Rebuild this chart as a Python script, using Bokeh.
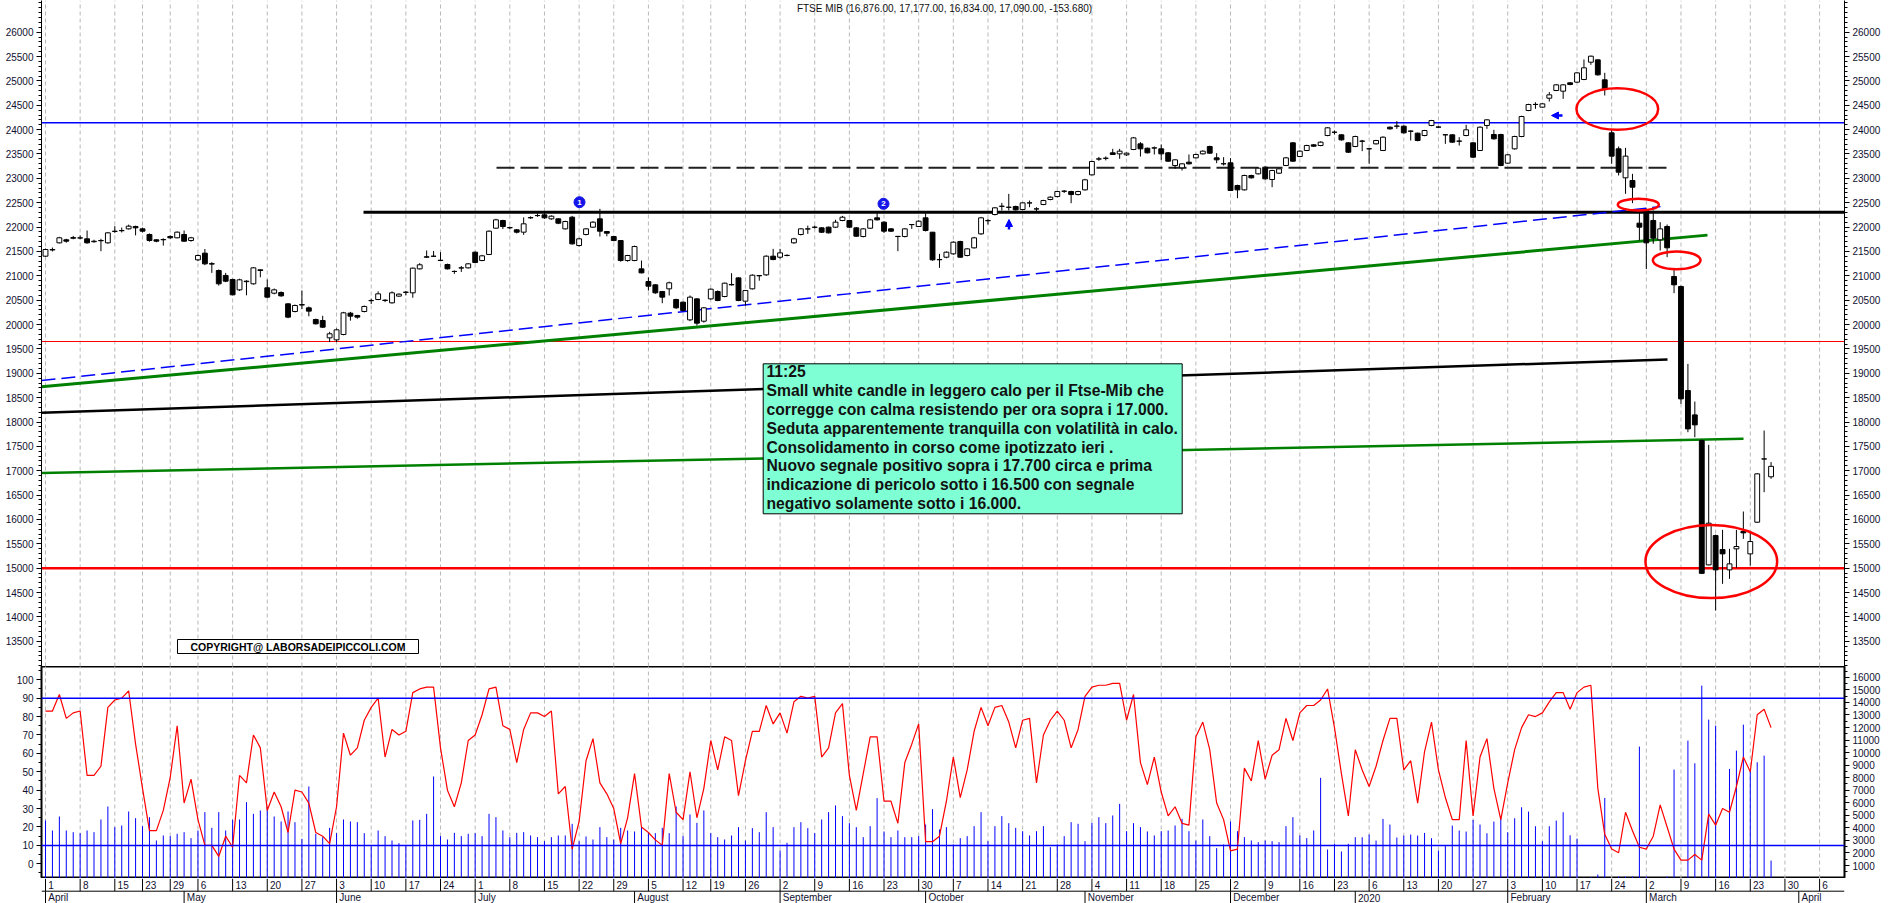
import pandas as pd
from bokeh.plotting import figure
from bokeh.models import (ColumnDataSource, LinearAxis, Range1d, FixedTicker, Span,
                          Label, Arrow, NormalHead)
from bokeh.layouts import column
from bokeh.embed import file_html
from bokeh.resources import INLINE
from bokeh.core.properties import value

# ---------------- data ----------------
title_text = "FTSE MIB (16,876.00, 17,177.00, 16,834.00, 17,090.00, -153.680)"
holidays = ["2019-04-19", "2019-04-22", "2019-05-01", "2019-08-15", "2019-12-24", "2019-12-25",
            "2019-12-26", "2019-12-31", "2020-01-01", "2020-04-10", "2020-04-13"]
skip_week_ticks = ["2019-12-30"]
month_names = {1: "2020", 2: "February", 3: "March", 4: "April", 5: "May", 6: "June", 7: "July",
               8: "August", 9: "September", 10: "October", 11: "November", 12: "December"}

opens = [
    21403, 21530, 21677, 21739, 21770, 21775, 21759, 21700, 21720, 21677, 21910, 21925, 21964, 22012, 21964, 21848, 21739, 21740, 21807, 21780,
    21848, 21725, 21328, 21465, 21250, 21109, 21007, 20925, 20712, 20880, 20836, 21123, 20754, 20644, 20658, 20425, 20268, 20400, 20343, 20104, 20083, 19727,
    19686, 19796, 20234, 20186, 20268, 20490, 20514, 20500, 20446, 20583, 20660, 20651, 21143, 21390, 21400, 21320, 21232, 21090, 21160, 21164,
    21485, 21314, 21438, 21978, 22135, 21990, 21944, 21896, 22190, 22235, 22251, 22169, 22169, 21964, 22203, 21622, 21848, 21998, 22169, 21909, 21806, 21724, 21314,
    21314, 21143, 20883, 20815, 20678, 20733, 20514, 20459, 20096, 20527, 20069, 20527, 20678, 20575, 20822, 20958, 20480, 20733, 21006, 21020, 21403,
    21382, 21420, 21677, 21848, 21960, 21995, 21984, 21998, 21998, 22135, 22135, 21984, 21806, 21977, 22190, 22101, 21964, 21810, 21806, 22050, 22012,
    22190, 21895, 21330, 21382, 21451, 21704, 21417, 21574, 21861, 22130, 22258, 22425, 22405, 22422, 22361, 22495, 22372, 22463, 22566, 22627, 22735, 22730, 22668,
    22764, 23072, 23395, 23410, 23524, 23503, 23483, 23592, 23708, 23619, 23622, 23606, 23524, 23264, 23216, 23332, 23421, 23503, 23654, 23421, 23300,
    23319, 22853, 22764, 23059, 23093, 23230, 22976, 23106, 23264, 23729, 23448, 23572, 23688, 23674, 23879, 23945, 23893, 23729,
    23654, 23765, 23608, 23708, 23572, 24050, 24072, 24071, 23970, 23927, 23879, 24085, 24055, 23895, 23893, 23765, 23879, 23729, 23572, 24085, 23900, 23900,
    23312, 23606, 23859, 24392, 24518, 24461, 24645, 24803, 24789, 24960, 24974, 25029, 25384, 25432, 25022, 23934, 23606, 23011, 22956, 22081,
    22341, 22136, 21739, 22012, 20986, 20781, 18646, 18146, 17620, 15068, 15670, 15383, 14966, 15397, 15753, 15294, 15944, 17240, 16876,
]
highs = [
    21560, 21580, 21800, 21760, 21820, 21830, 21930, 21740, 21760, 21900, 22019, 21990, 22050, 22030, 21990, 21870, 21750, 21770, 21830, 21910,
    21930, 21800, 21440, 21550, 21280, 21130, 21060, 20940, 20940, 20910, 21180, 21130, 20925, 20740, 20680, 20440, 20410, 20700, 20370, 20120, 20180, 19850,
    19920, 20260, 20260, 20200, 20390, 20530, 20680, 20520, 20680, 20640, 20690, 21170, 21260, 21520, 21510, 21485, 21250, 21110, 21200, 21260,
    21500, 21430, 21930, 22170, 22150, 22010, 21960, 22200, 22220, 22280, 22290, 22240, 22180, 22130, 22230, 21780, 21980, 22120, 22374, 21920, 21820, 21730, 21430,
    21620, 21314, 20970, 20830, 20690, 20880, 20530, 20470, 20596, 20540, 20360, 20740, 20700, 20860, 21054, 20970, 20710, 21030, 21010, 21420, 21553,
    21553, 21440, 21780, 21980, 22030, 22030, 22000, 22010, 22150, 22230, 22150, 22000, 21980, 22170, 22285, 22120, 21980, 21815, 21980, 22060, 22140,
    22285, 21900, 21451, 21500, 21710, 21720, 21570, 21800, 22210, 22169, 22410, 22497, 22682, 22440, 22510, 22545, 22408, 22560, 22630, 22745, 22760, 22745, 22745,
    22990, 23360, 23440, 23450, 23606, 23606, 23530, 23850, 23743, 23630, 23654, 23695, 23540, 23395, 23310, 23490, 23505, 23575, 23670, 23517, 23435,
    23414, 22870, 23075, 23075, 23225, 23245, 23175, 23210, 23440, 23745, 23575, 23690, 23700, 23760, 24050, 23982, 23905, 23740,
    23875, 23790, 23615, 23790, 23860, 24065, 24174, 24085, 23985, 23940, 23995, 24200, 24070, 23900, 23905, 23845, 24098, 23740, 24065, 24215, 23996, 23915,
    23500, 23875, 24285, 24530, 24563, 24545, 24770, 24935, 24935, 24975, 25180, 25440, 25520, 25440, 25166, 24016, 23654, 23626, 23093, 22307,
    22380, 22341, 22101, 22053, 21137, 20800, 19193, 18420, 17640, 17531, 15690, 15787, 15397, 15787, 16163, 15739, 16950, 17825, 17177,
]
lows = [
    21390, 21500, 21665, 21680, 21750, 21750, 21660, 21680, 21505, 21660, 21882, 21890, 21950, 21830, 21890, 21700, 21690, 21620, 21760, 21770,
    21700, 21700, 21300, 21220, 21060, 20800, 20870, 20600, 20690, 20600, 20820, 20970, 20540, 20620, 20570, 20130, 20250, 20320, 20170, 20000, 19930, 19640,
    19640, 19780, 20080, 20120, 20250, 20420, 20500, 20460, 20430, 20570, 20600, 20550, 21130, 21370, 21390, 21300, 21130, 21040, 21080, 21150,
    21260, 21300, 21430, 21970, 21960, 21960, 21870, 21840, 22170, 22210, 22170, 22150, 22060, 21950, 21640, 21600, 21830, 21985, 21806, 21810, 21710, 21290, 21290,
    21300, 21050, 20698, 20630, 20438, 20596, 20320, 20270, 20069, 19980, 20040, 20510, 20480, 20560, 20800, 20480, 20390, 20720, 20900, 21000, 21320,
    21350, 21400, 21660, 21830, 21861, 21970, 21880, 21870, 21980, 22120, 21980, 21800, 21790, 21960, 22135, 21880, 21900, 21506, 21790, 21964, 22000,
    21910, 21310, 21164, 21360, 21430, 21370, 21400, 21560, 21840, 22053, 22240, 22340, 22340, 22340, 22350, 22408, 22330, 22450, 22550, 22610, 22700, 22490, 22650,
    22750, 23060, 23360, 23370, 23480, 23401, 23460, 23580, 23448, 23510, 23490, 23380, 23340, 23195, 23161, 23285, 23410, 23490, 23505, 23312, 23264,
    22740, 22593, 22750, 22995, 23080, 22975, 22819, 23090, 23250, 23340, 23435, 23560, 23645, 23660, 23865, 23900, 23775, 23520,
    23640, 23558, 23298, 23695, 23560, 24000, 24016, 23920, 23777, 23760, 23865, 24070, 24030, 23708, 23730, 23674, 23865, 23420, 23560, 24016, 23795, 23250,
    23298, 23590, 23845, 24380, 24427, 24450, 24577, 24790, 24632, 24910, 24960, 25015, 25330, 25110, 24700, 23298, 23059, 22683, 22491, 21725,
    21137, 21657, 21520, 21383, 20644, 18372, 17791, 17688, 14884, 15060, 14131, 14679, 14781, 15007, 15602, 15055, 15930, 16560, 16834,
]
closes = [
    21540, 21540, 21780, 21711, 21785, 21780, 21677, 21710, 21725, 21882, 21916, 21930, 22019, 21985, 21916, 21725, 21711, 21745, 21780, 21896,
    21711, 21780, 21417, 21246, 21240, 20836, 20890, 20610, 20918, 20890, 21164, 21110, 20562, 20712, 20589, 20152, 20391, 20410, 20275, 20015, 19946, 19810,
    19892, 20241, 20172, 20152, 20371, 20494, 20630, 20494, 20651, 20624, 20665, 21157, 21226, 21383, 21403, 21314, 21143, 21089, 21164, 21246,
    21273, 21410, 21916, 22149, 22012, 21985, 21896, 22067, 22195, 22238, 22190, 22224, 22080, 22114, 21656, 21759, 21964, 22101, 21916, 21875, 21724, 21314, 21417,
    21601, 21061, 20787, 20651, 20562, 20856, 20343, 20288, 20562, 20028, 20343, 20726, 20493, 20849, 20815, 20493, 20698, 21013, 21000, 21403, 21334,
    21471, 21417, 21759, 21964, 21964, 21998, 21895, 21882, 22101, 22203, 21998, 21813, 21964, 22149, 22149, 21916, 21916, 21806, 21964, 22053, 22121,
    21930, 21328, 21334, 21485, 21690, 21382, 21553, 21779, 22190, 22135, 22395, 22429, 22408, 22354, 22497, 22497, 22374, 22545, 22614, 22730, 22737, 22668, 22730,
    22970, 23346, 23401, 23414, 23490, 23558, 23517, 23831, 23606, 23524, 23626, 23503, 23353, 23380, 23298, 23298, 23490, 23558, 23517, 23380, 23298,
    22751, 22764, 23059, 23011, 23209, 22990, 23161, 23195, 23421, 23353, 23558, 23674, 23660, 23743, 24037, 23948, 23790, 23537,
    23859, 23763, 23606, 23777, 23845, 24016, 24071, 23934, 23968, 23777, 23982, 24187, 24050, 23893, 23743, 23763, 23996, 23435, 24050, 24201, 23811, 23264,
    23483, 23859, 24269, 24516, 24516, 24529, 24714, 24919, 24919, 24926, 25165, 25268, 25507, 25124, 24837, 23456, 23127, 23456, 22819, 21999,
    21677, 21773, 21964, 21575, 20815, 18475, 17859, 17941, 14894, 15924, 14966, 15294, 15089, 15445, 15725, 15547, 16936, 17243, 17090,
]
oscillator = [
    83, 83, 92, 79, 82, 83, 48, 48, 53, 85, 89, 90, 94, 65, 41, 18, 18, 29, 47, 75,
    33, 46, 24, 10, 10, 4, 15, 9, 48, 44, 70, 63, 29, 39, 31, 17, 40, 39, 33, 17,
    15, 11, 31, 71, 59, 63, 78, 85, 90, 58, 73, 70, 72, 93, 95, 96, 96, 63, 40, 31,
    44, 67, 70, 81, 95, 96, 75, 73, 55, 73, 82, 82, 80, 83, 38, 42, 8, 23, 56, 68,
    44, 38, 30, 11, 25, 49, 20, 17, 13, 10, 49, 28, 24, 50, 25, 41, 67, 51, 69, 67,
    37, 56, 72, 72, 86, 76, 82, 71, 88, 91, 90, 91, 58, 63, 82, 87, 48, 29, 49, 69,
    69, 34, 34, 22, 55, 65, 76, 12, 12, 15, 34, 58, 36, 51, 72, 85, 75, 85, 86, 77,
    63, 78, 79, 44, 70, 78, 83, 78, 63, 73, 91, 96, 97, 97, 98, 98, 78, 92, 55, 43,
    58, 39, 26, 31, 22, 21, 69, 77, 62, 33, 24, 7, 8, 52, 45, 67, 46, 59, 62, 79,
    67, 82, 86, 86, 89, 95, 74, 49, 26, 62, 51, 42, 53, 67, 79, 79, 51, 56, 33, 61,
    77, 51, 36, 24, 24, 67, 26, 58, 68, 41, 24, 44, 62, 74, 81, 80, 82, 88, 93, 93,
    84, 93, 96, 97, 41, 16, 8, 6, 28, 18, 9, 8, 15, 32, 20, 8, 2, 2, 5, 2,
    27, 21, 30, 28, 42, 58, 50, 81, 84, 74,
]
volume = [
    4590, 3794, 4909, 3794, 3660, 3580, 3794, 3660, 4670, 5706, 4059, 4192, 5307, 4776, 4139, 4856, 2997, 3395, 3342, 3528,
    3660, 3183, 3794, 5254, 4006, 5254, 3794, 4643, 4670, 6051, 5121, 5387, 5652, 4909, 4510, 5307, 4457, 3130, 7299, 3528,
    3262, 4006, 3580, 4670, 4510, 4457, 3580, 2545, 3794, 3342, 2997, 2784, 2651, 4590, 4643, 5121, 8096, 3342, 3076, 3608,
    3342, 3528, 3580, 3342, 5121, 4856, 3794, 3262, 3608, 3660, 3395, 3262, 2943, 3262, 3395, 3395, 4325, 2943, 3315, 3076,
    4059, 3262, 3076, 4006, 3794, 3714, 4059, 3580, 3580, 4006, 3580, 5706, 3342, 5068, 4404, 5387, 3580, 3262, 3076, 3395,
    4059, 2997, 3979, 3660, 5254, 4059, 2200, 2811, 4059, 4457, 3979, 3580, 4670, 5254, 5786, 4936, 4378, 4059, 3262, 4139,
    6370, 3714, 3262, 3794, 3262, 3262, 3342, 4272, 5493, 3873, 4059, 2678, 3183, 3342, 4139, 5254, 2943, 4139, 4936, 4378,
    4006, 3740, 3395, 3740, 4139, 2466, 2678, 3342, 4457, 4325, 2943, 4404, 4856, 4378, 4989, 5918, 3740, 4378, 4059, 3714,
    3395, 3740, 3794, 4192, 4723, 3740, 2997, 4670, 3342, 2386, 2678, 4510, 3740, 3262, 2997, 2864, 2997, 2943, 2864, 4139,
    4856, 3395, 3183, 3794, 7990, 2280, 2731, 2120, 2731, 3262, 3256, 3468, 2990, 4716, 4265, 3229, 3388, 3468, 3388, 3600,
    3176, 2193, 2592, 4185, 3787, 3707, 4636, 4265, 3574, 4503, 4796, 3654, 4769, 5645, 5300, 4132, 2937, 4132, 4583, 5247,
    3415, 3149, 20, 70, 282, 6388, 0, 123, 123, 123, 10477, 123, 0, 16, 123, 8645, 0, 10955, 9150, 15336,
    12628, 12150, 0, 8698, 10158, 12229, 8566, 9229, 9760, 1397,
]
note_lines = [
    "11:25",
    "Small white candle in leggero calo per il Ftse-Mib che",
    "corregge con calma resistendo per ora sopra i 17.000.",
    "Seduta apparentemente tranquilla con volatilità in calo.",
    "Consolidamento in corso come ipotizzato ieri .",
    "Nuovo segnale positivo sopra i 17.700 circa e prima",
    "indicazione di pericolo sotto i 16.500 con segnale",
    "negativo solamente sotto i 16.000.",
]
copyright_text = "COPYRIGHT@ LABORSADEIPICCOLI.COM"

# horizontal levels (price)
level_blue = 24140
level_black = 22305
level_dash = 23217
level_red_thin = 19652
level_red = 15000

N = len(closes)
assert len(opens) == N == len(highs) == len(lows) == len(oscillator) == len(volume) == 250

# ---------------- geometry helpers (pixel mapping of the original) ----------------
PX0, PXD = 45.0, 6.93          # x pixel of first candle, pixels per trading day
PY15, PPU = 567.7, 0.04873     # y pixel of 15000, pixels per price unit
def xi(px):
    return (px - PX0) / PXD
def yp(py):
    return 15000 + (PY15 - py) / PPU

X0, X1 = xi(41), xi(1844)
YMIN, YMAX = yp(666), yp(0)

all_days = [d for d in pd.bdate_range("2019-04-01", "2020-04-17") if d.strftime("%Y-%m-%d") not in holidays]
all_days = [d for i, d in enumerate(all_days) if i <= X1]
week_ticks, week_labels, month_ticks, month_labels = [], [], [], []
for i, d in enumerate(all_days):
    if i == 0 or d.isocalendar()[1] != all_days[i - 1].isocalendar()[1]:
        if d.strftime("%Y-%m-%d") not in skip_week_ticks:
            week_ticks.append(i)
            week_labels.append(str(d.day))
    if i == 0 or d.month != all_days[i - 1].month:
        month_ticks.append(i)
        month_labels.append(month_names[d.month])

FONT = value("Liberation Sans")

def style_axis(ax):
    ax.major_label_text_font = "Liberation Sans"
    ax.major_label_text_font_size = "10px"
    ax.major_label_text_color = "#101030"
    ax.major_tick_out = 5
    ax.major_tick_in = 0
    ax.minor_tick_out = 3
    ax.minor_tick_in = 0
    ax.axis_line_color = "black"
    ax.major_tick_line_color = "black"
    ax.minor_tick_line_color = "black"
    ax.major_label_standoff = 3
    return ax

def make_fig(frame_h, y_range, outline):
    f = figure(width=1890, height=frame_h, frame_width=1803, frame_height=frame_h,
               x_range=XR, y_range=y_range, sizing_mode="fixed",
               output_backend="svg", toolbar_location=None, x_axis_type=None,
               y_axis_location=None, min_border_left=41, min_border_right=46,
               min_border_top=0, min_border_bottom=0, background_fill_color="white",
               border_fill_color="white", outline_line_color=outline, title=None)
    f.grid.visible = False
    return f

XR = Range1d(X0, X1)

# ---------------- main price panel ----------------
p = make_fig(666, Range1d(YMIN, YMAX), None)
price_ticks = list(range(13500, 26001, 500))
price_minor = list(range(13000, 26700, 100))
for side in ("left", "right"):
    p.add_layout(style_axis(LinearAxis(ticker=FixedTicker(ticks=price_ticks, minor_ticks=price_minor))), side)

p.segment(x0=week_ticks, y0=[YMIN] * len(week_ticks), x1=week_ticks, y1=[YMAX] * len(week_ticks),
          line_color="#b8b8b8", line_width=1, line_dash="4 3")

# horizontal levels
p.segment(x0=[X0], y0=[level_red_thin], x1=[X1], y1=[level_red_thin], line_color="red", line_width=1)
p.segment(x0=[X0], y0=[level_blue], x1=[X1], y1=[level_blue], line_color="blue", line_width=1.5)
p.segment(x0=[X0], y0=[level_red], x1=[X1], y1=[level_red], line_color="red", line_width=2.5)
p.segment(x0=[xi(363)], y0=[level_black], x1=[X1], y1=[level_black], line_color="black", line_width=3)
p.segment(x0=[xi(496)], y0=[level_dash], x1=[xi(1666)], y1=[level_dash], line_color="#202020",
          line_width=2, line_dash="18 6")

# trend lines
p.segment(x0=[X0], y0=[18191], x1=[xi(1667)], y1=[19283], line_color="black", line_width=2.5)
p.segment(x0=[X0], y0=[16954], x1=[xi(1743)], y1=[17655], line_color="#008000", line_width=2.5)
p.segment(x0=[X0], y0=[18724], x1=[xi(1707)], y1=[21835], line_color="#008000", line_width=3)
p.segment(x0=[X0], y0=[18850], x1=[xi(1660)], y1=[22420], line_color="blue", line_width=1.5,
          line_dash="14 6")

# candles
idx = list(range(N))
src = ColumnDataSource(dict(
    x=idx, o=opens, h=highs, l=lows, c=closes,
    top=[max(o, c) for o, c in zip(opens, closes)],
    bot=[min(o, c) for o, c in zip(opens, closes)],
    fill=["white" if c >= o else "black" for o, c in zip(opens, closes)],
))
p.segment(x0="x", y0="l", x1="x", y1="h", source=src, line_color="black", line_width=1)
p.vbar(x="x", width=0.7, top="top", bottom="bot", source=src, fill_color="fill",
       line_color="black", line_width=1)

# red ellipses
p.ellipse(x=[xi(1616.8), xi(1637.8), xi(1676.2), xi(1710.8)],
          y=[yp(108.5), yp(204.2), yp(259.8), yp(561)],
          width=[81.7 / PXD, 41 / PXD, 47.7 / PXD, 131.7 / PXD],
          height=[41.7 / PPU, 11.7 / PPU, 17.7 / PPU, 73.3 / PPU],
          fill_color=None, line_color="red", line_width=2.5)

# blue markers
p.scatter(x=[xi(579), xi(883)], y=[yp(201.7), yp(203.3)], size=11, marker="circle",
          fill_color="#1515e8", line_color="#1515e8")
p.text(x=[xi(579), xi(883)], y=[yp(201.7), yp(203.3)], text=["1", "2"], text_color="white",
       text_font=FONT, text_font_size="8px", text_font_style="bold", text_align="center",
       text_baseline="middle")
p.add_layout(Arrow(end=NormalHead(size=7, fill_color="blue", line_color="blue"),
                   x_start=xi(1562), y_start=yp(115), x_end=xi(1551), y_end=yp(115),
                   line_color="blue", line_width=2.5))
p.add_layout(Arrow(end=NormalHead(size=7, fill_color="blue", line_color="blue"),
                   x_start=xi(1008.5), y_start=yp(229), x_end=xi(1008.5), y_end=yp(219),
                   line_color="blue", line_width=2.5))

# title
p.text(x=[xi(944)], y=[yp(8)], text=[title_text], text_font=FONT, text_font_size="10px",
       text_color="#101010", text_align="center", text_baseline="middle")

# note box
p.quad(left=[xi(762.7)], right=[xi(1181.7)], top=[yp(363.3)], bottom=[yp(513.3)],
       fill_color="#7fffd4", line_color="black", line_width=1)
p.text(x=[xi(766)] * len(note_lines), y=[yp(371.3 + 18.8 * k) for k in range(len(note_lines))],
       text=note_lines, text_font=FONT, text_font_size="15.7px", text_font_style="bold",
       text_color="#111111", text_align="left", text_baseline="middle")

# copyright box
p.quad(left=[xi(177)], right=[xi(418)], top=[yp(639)], bottom=[yp(653)],
       fill_color="white", line_color="black", line_width=1)
p.text(x=[xi(297.5)], y=[yp(646)], text=[copyright_text], text_font=FONT, text_font_size="10.5px",
       text_font_style="bold", text_color="black", text_align="center", text_baseline="middle")

# ---------------- lower oscillator / volume panel ----------------
p2 = make_fig(212, Range1d(-7.99, 107.2), "black")
p2.outline_line_width = 2
p2.extra_y_ranges = {"vol": Range1d(-32, 16861)}
p2.add_layout(style_axis(LinearAxis(ticker=FixedTicker(ticks=list(range(0, 101, 10)),
                                                       minor_ticks=list(range(-5, 106, 5))))), "left")
p2.add_layout(style_axis(LinearAxis(y_range_name="vol",
                                    ticker=FixedTicker(ticks=list(range(1000, 16001, 1000)),
                                                       minor_ticks=list(range(0, 16900, 500))))), "right")
p2.segment(x0=week_ticks, y0=[-8] * len(week_ticks), x1=week_ticks, y1=[108] * len(week_ticks),
           line_color="#b8b8b8", line_width=1, line_dash="4 3")
p2.segment(x0=idx, y0=[0] * N, x1=idx, y1=volume, y_range_name="vol", line_color="blue", line_width=1)
p2.add_layout(Span(location=90, dimension="width", line_color="blue", line_width=1.5))
p2.add_layout(Span(location=10, dimension="width", line_color="blue", line_width=1.5))
p2.line(x=idx, y=oscillator, line_color="red", line_width=1.2)
p2.add_layout(Label(x=1810, y=0, x_units="screen", y_units="screen", text="x10.0000",
                    text_font="Liberation Sans", text_font_size="8px", text_color="#101030",
                    border_line_color="black", background_fill_color="white"))

# ---------------- date strip ----------------
p3 = make_fig(25, Range1d(0, 25), None)
p3.segment(x0=[X0], y0=[12.3], x1=[X1], y1=[12.3], line_color="black", line_width=1)
p3.segment(x0=week_ticks, y0=[12.3] * len(week_ticks), x1=week_ticks, y1=[25] * len(week_ticks),
           line_color="black", line_width=1)
p3.segment(x0=month_ticks, y0=[0] * len(month_ticks), x1=month_ticks, y1=[12.3] * len(month_ticks),
           line_color="black", line_width=1)
p3.text(x=[t + 0.4 for t in week_ticks], y=[18.5] * len(week_ticks), text=week_labels,
        text_font=FONT, text_font_size="10px", text_color="#101030", text_baseline="middle")
p3.text(x=[t + 0.4 for t in month_ticks], y=[6] * len(month_ticks), text=month_labels,
        text_font=FONT, text_font_size="10px", text_color="#101030", text_baseline="middle")

layout = column(p, p2, p3, spacing=0, width=1890, height=903, sizing_mode="fixed")
open("out.html", "w").write(file_html(layout, INLINE))
